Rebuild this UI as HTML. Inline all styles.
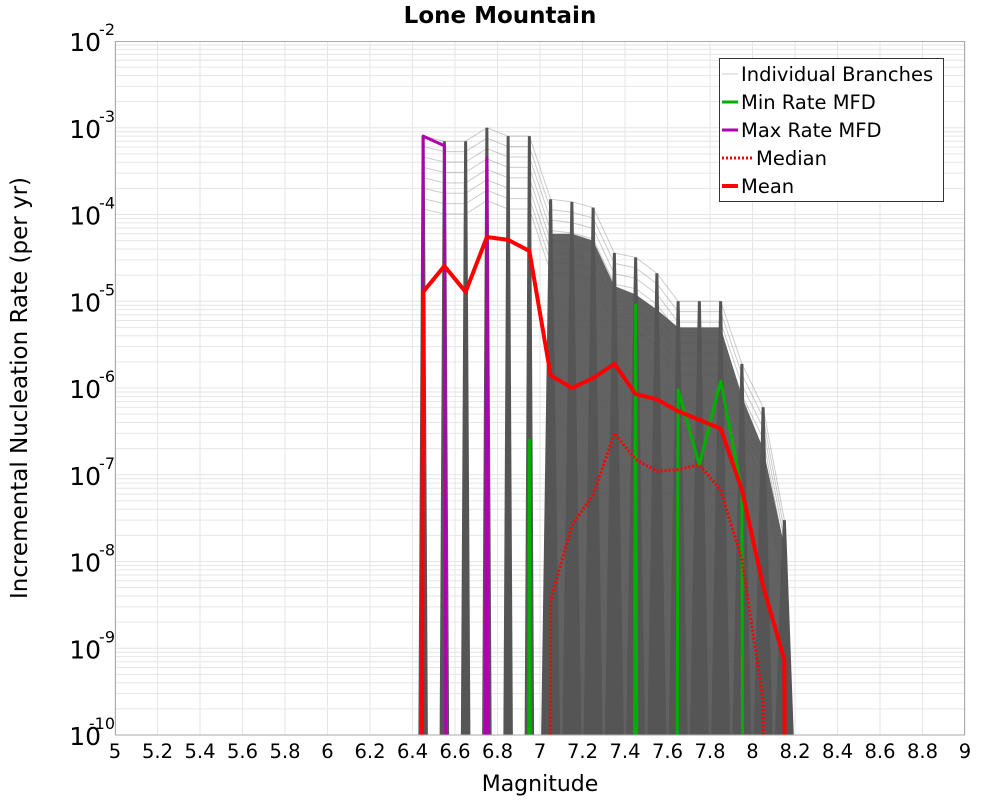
<!DOCTYPE html>
<html><head><meta charset="utf-8"><style>
html,body{margin:0;padding:0;background:#fff;}
svg{display:block;font-family:"DejaVu Sans","Liberation Sans",sans-serif;}
</style></head><body>
<svg id="chart" width="1000" height="800" viewBox="0 0 1000 800" xmlns="http://www.w3.org/2000/svg">
<text x="500" y="23" text-anchor="middle" font-size="23" font-weight="bold">Lone Mountain</text>
<g id="grid"></g>
<defs><clipPath id="clip"><rect x="115" y="41" width="850" height="694"/></clipPath></defs>
<g id="marks" clip-path="url(#clip)"></g>
<rect x="115.5" y="41.5" width="849" height="693.5" fill="none" stroke="#aaa" stroke-width="1"/>
<g id="xticks"></g>
<g id="yticks"></g>
<text x="540" y="791" text-anchor="middle" font-size="22">Magnitude</text>
<text transform="translate(27,388) rotate(-90)" text-anchor="middle" font-size="23">Incremental Nucleation Rate (per yr)</text>
<g>
<rect x="719.5" y="58.5" width="224" height="143" fill="#fff" stroke="#333" stroke-width="1"/>
<g><line x1="722" y1="74" x2="738" y2="74" stroke="#ccc" stroke-width="1"/><text x="741" y="81" font-size="19.5">Individual Branches</text></g>
<g><line x1="722" y1="102" x2="738" y2="102" stroke="#00b000" stroke-width="3"/><text x="741" y="109" font-size="19.5">Min Rate MFD</text></g>
<g><line x1="722" y1="130" x2="738" y2="130" stroke="#b000b0" stroke-width="3"/><text x="741" y="137" font-size="19.5">Max Rate MFD</text></g>
<g><line x1="722" y1="158" x2="752" y2="158" stroke="#f00" stroke-width="3" stroke-dasharray="2,2"/><text x="756" y="165" font-size="19.5">Median</text></g>
<g><line x1="722" y1="186" x2="738" y2="186" stroke="#f00" stroke-width="4"/><text x="741" y="193" font-size="19.5">Mean</text></g>
</g>
</svg>
<script>
const bins = [6.35,6.45,6.55,6.65,6.75,6.85,6.95,7.05,7.15,7.25,7.35,7.45,7.55,7.65,7.75,7.85,7.95,8.05,8.15,8.25];
const branchMax = [0,8e-4,7e-4,7e-4,1e-3,8e-4,8e-4,1.5e-4,1.4e-4,1.2e-4,3.6e-5,3.2e-5,2.1e-5,1.0e-5,1.0e-5,1.0e-5,1.9e-6,6e-7,3e-8,0];
const branchDense = [0,0,0,0,0,0,0,6e-5,6e-5,5e-5,1.5e-5,1.2e-5,8e-6,5e-6,5e-6,5e-6,8e-7,2e-7,1.5e-8,0];
const meanVals = [0,1.28e-5,2.55e-5,1.28e-5,5.5e-5,5.1e-5,3.8e-5,1.4e-6,1.0e-6,1.3e-6,1.9e-6,8.5e-7,7.4e-7,5.4e-7,4.3e-7,3.4e-7,6.7e-8,5.2e-9,7.3e-10,0];
const medianVals = [0,0,0,0,0,0,0,3.6e-9,2.6e-8,5.9e-8,3.0e-7,1.5e-7,1.1e-7,1.15e-7,1.3e-7,6.7e-8,1.05e-8,2.5e-10,0,0];
const minVals = [0,0,0,0,0,0,2.5e-7,0,0,0,0,9e-6,0,9.5e-7,1.3e-7,1.2e-6,6.5e-8,0,0,0];
const maxVals = [0,8e-4,6.2e-4,0,4.5e-4,0,0,0,0,0,0,0,0,0,0,0,0,0,0,0];
const xTicks = [5,5.2,5.4,5.6,5.8,6,6.2,6.4,6.6,6.8,7,7.2,7.4,7.6,7.8,8,8.2,8.4,8.6,8.8,9];
const yExps = [-2,-3,-4,-5,-6,-7,-8,-9,-10];

const NS="http://www.w3.org/2000/svg";
const L=115,R=965,T=41,B=735;
const xs=m=>L+(m-5)/4*(R-L);
const ys=v=>v<=0?B+8000:T+(-2-Math.log10(v))/8*(B-T);
function mk(tag,attrs,parent){const e=document.createElementNS(NS,tag);for(const k in attrs)e.setAttribute(k,attrs[k]);parent.appendChild(e);return e;}
const grid=document.getElementById('grid'),marks=document.getElementById('marks');
for(let d=-10;d<-2;d++){for(let k=1;k<10;k++){const y=ys(k*Math.pow(10,d));
 const g=mk('line',{x1:L,x2:R,y1:y,y2:y,stroke:'#e6e6e6','stroke-width':1},grid);
 
 }}
xTicks.forEach(t=>{const g=mk('line',{x1:xs(t),x2:xs(t),y1:T,y2:B,stroke:'#e6e6e6','stroke-width':1},grid);
 
 });
// upper envelope lines (lighter branches)
for(let k=0;k<8;k++){const f=1-k*0.1;
 const p=bins.map((b,i)=>xs(b)+','+ys(branchMax[i]>0?Math.pow(10,Math.log10(branchMax[i])-k*0.12):0));
 const pl=mk('polyline',{points:p.join(' '),fill:'none',stroke:'#555','stroke-opacity':0.3,'stroke-width':1},marks);
 
 }
// dense band
let pts=bins.map((b,i)=>xs(b)+','+ys(branchDense[i]));
let poly=mk('polygon',{points:xs(bins[0])+','+(B+40)+' '+pts.join(' ')+' '+xs(bins[bins.length-1])+','+(B+40),fill:'#555','fill-opacity':0.92},marks);


// spikes per bin
bins.forEach((b,i)=>{if(branchMax[i]<=0)return;
 const x=xs(b),w=xs(b+0.05)-xs(b);
 const hw=branchDense[i]>0?0.9:0.45;
 const sp=mk('polygon',{points:(x-w*hw)+','+(B+5)+' '+(x-1.5)+','+ys(branchMax[i])+' '+(x+1.5)+','+ys(branchMax[i])+' '+(x+w*hw)+','+(B+5),fill:'#555'},marks);
 
 
});
function line(vals,color,w,name,dash){const p=bins.map((b,i)=>xs(b)+','+ys(vals[i]));
 const a={points:p.join(' '),fill:'none',stroke:color,'stroke-width':w,'stroke-linejoin':'round'};if(dash)a['stroke-dasharray']=dash;
 const pl=mk('polyline',a,marks);
 
 }
line(minVals,'#00b000',3,'min-rate-line');
line(maxVals,'#b000b0',3,'max-rate-line');
line(medianVals,'#f00',3,'median-line','2,2');
line(meanVals,'#f00',4,'mean-line');
const xt=document.getElementById('xticks');
xTicks.forEach(t=>{const e=mk('text',{x:xs(t),y:758,'text-anchor':'middle','font-size':19.5},xt);e.textContent=String(t);
 
 });
const yt=document.getElementById('yticks');
yExps.forEach(d=>{const y=ys(Math.pow(10,d));
 const e=mk('text',{x:101,y:y+10,'text-anchor':'end','font-size':25},yt);e.textContent='10';
 
 
 const s=mk('text',{x:115,y:y-6,'text-anchor':'end','font-size':16},yt);s.textContent=String(d);
 
 });
</script>
</body></html>
